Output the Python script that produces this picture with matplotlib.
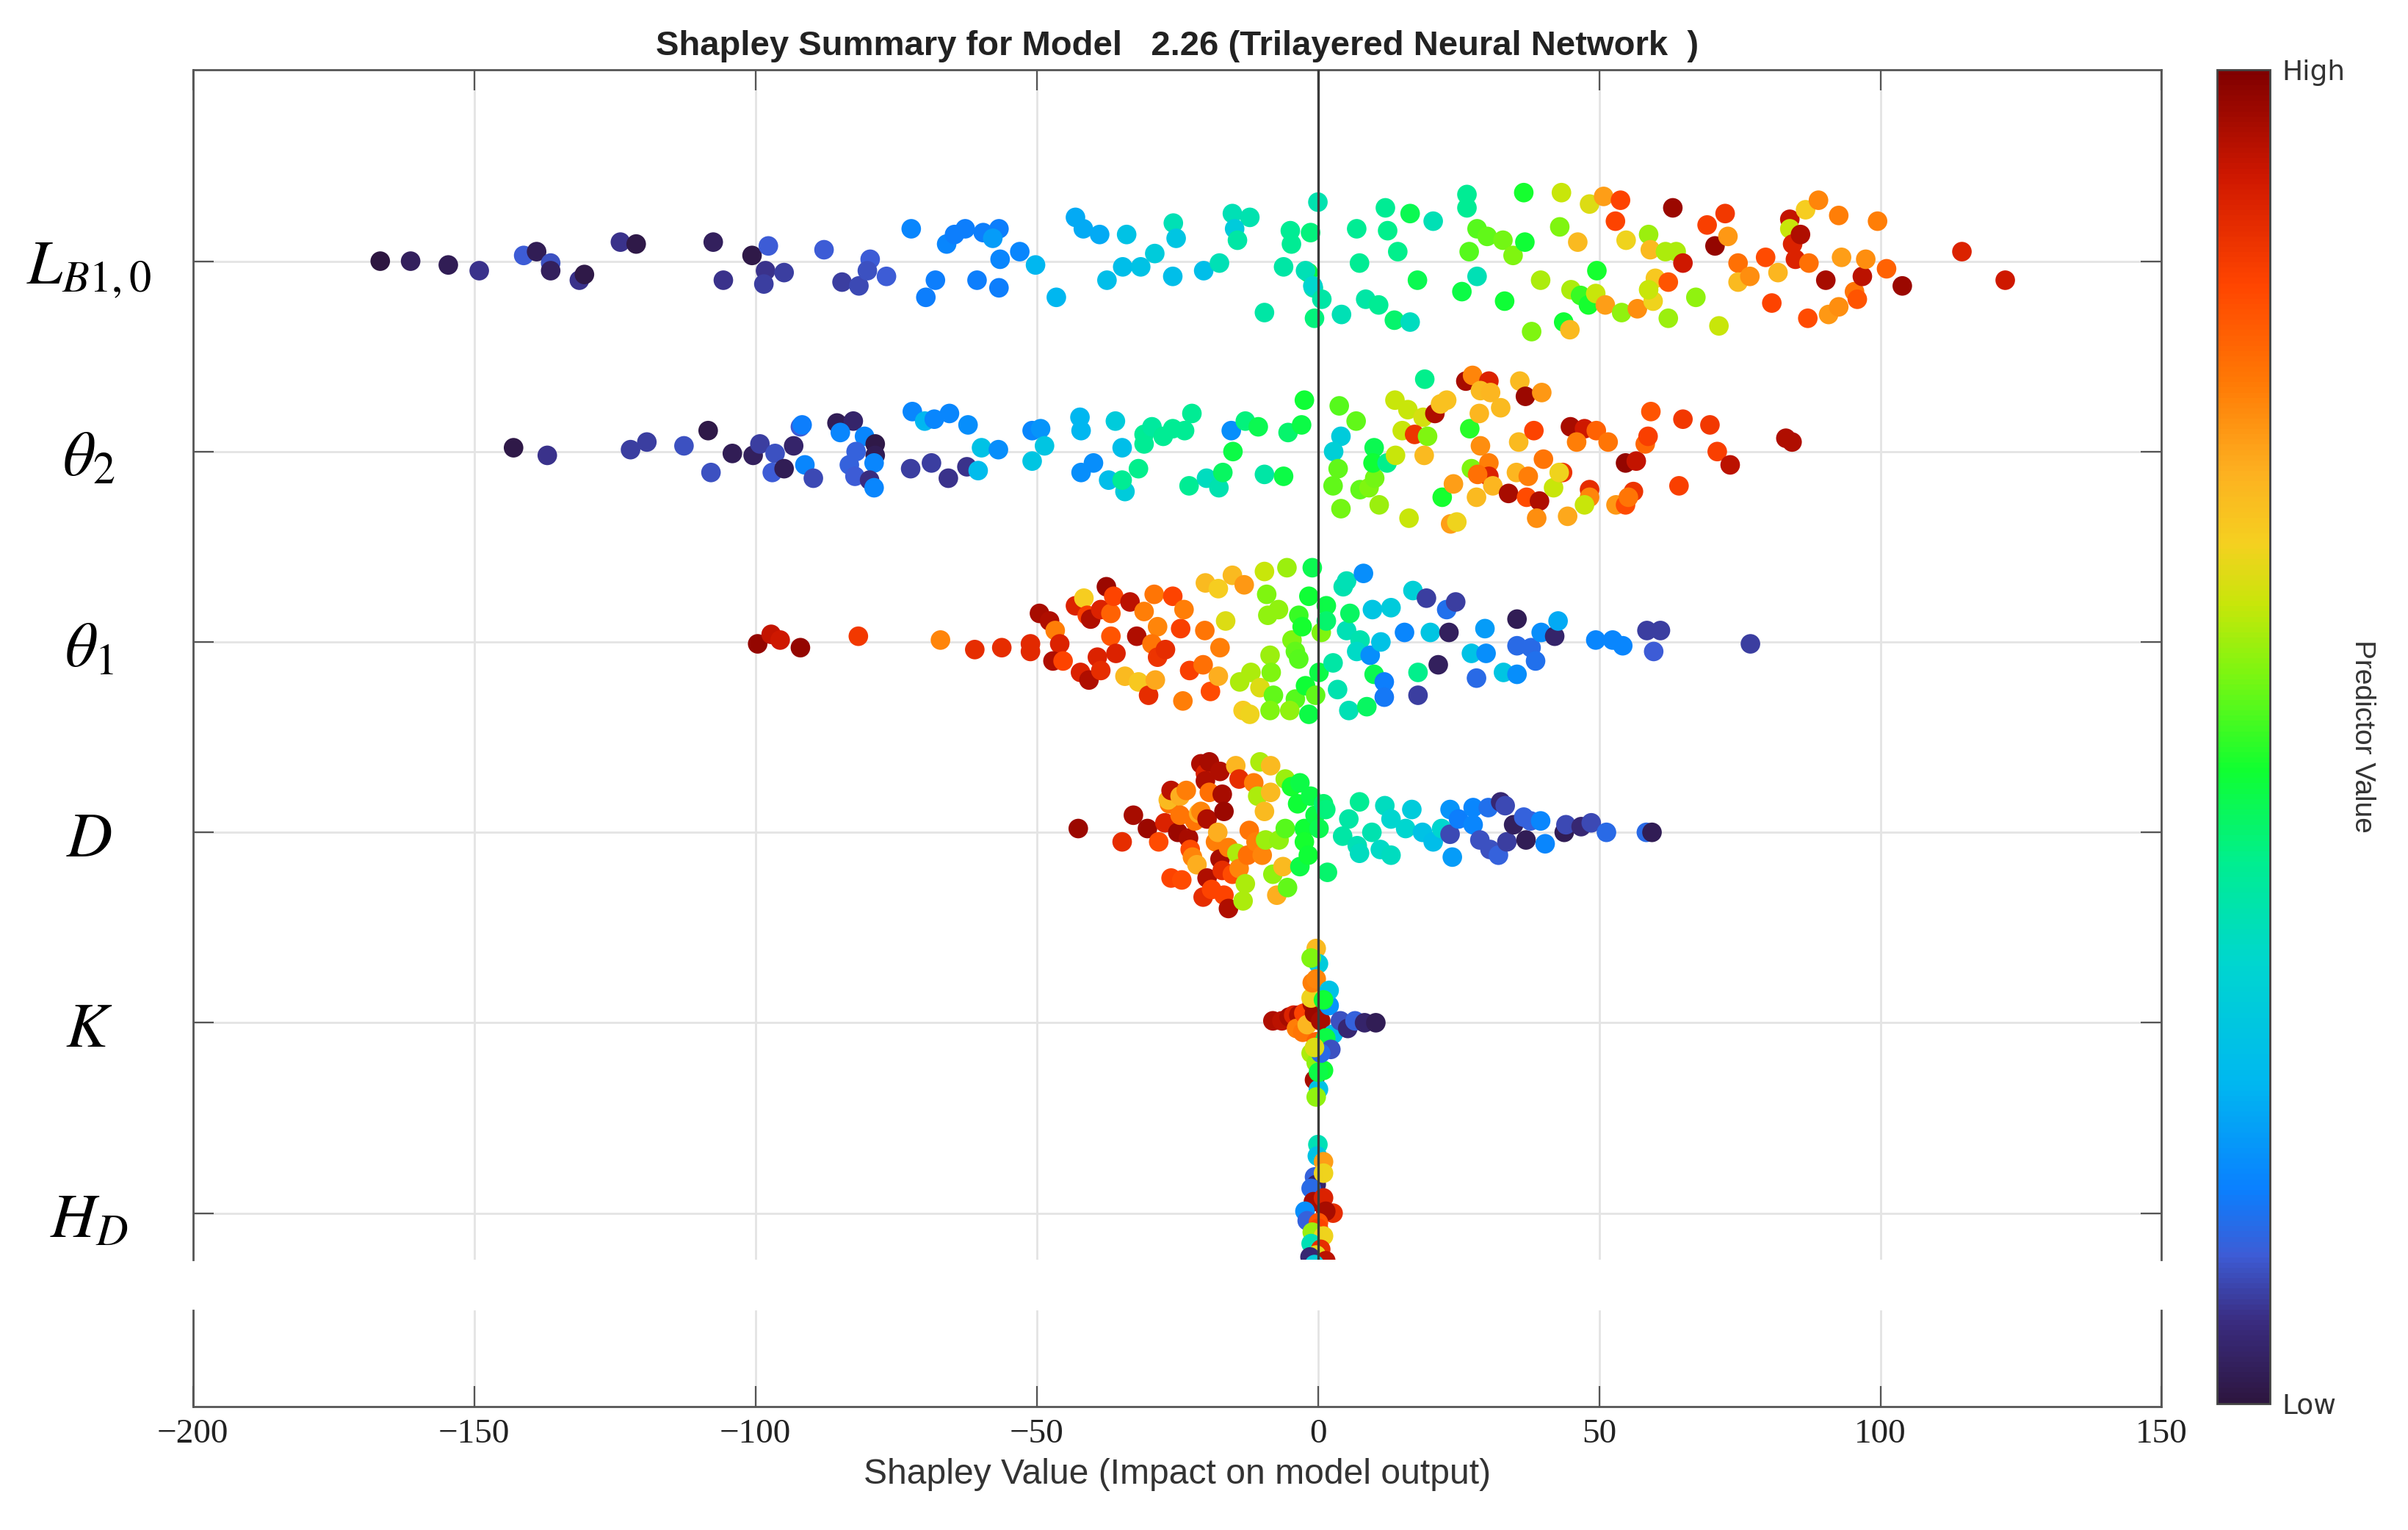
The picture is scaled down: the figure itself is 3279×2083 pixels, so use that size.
import numpy as np
import matplotlib.pyplot as plt
from matplotlib.colors import LinearSegmentedColormap

plt.rcParams['mathtext.fontset'] = 'stix'

# predictors, top to bottom
features = [r'$L_{B1,0}$', r'$\theta_2$', r'$\theta_1$', r'$D$', r'$K$', r'$H_D$']
x_ticks = [-200, -150, -100, -50, 0, 50, 100, 150]

# --- L_B1,0 : shapley value, vertical spread, predictor value (0 low .. 1 high)
lb_shap = [-166.7, -161.3, -154.6, -149.1, -141.2, -138.9, -136.4, -136.4, -131.3, -130.4,
           -124.0, -121.2, -107.5, -105.7, -100.6, -97.7, -98.2, -98.5, -94.9, -87.8,
           -84.6, -81.6, -79.6, -80.1, -76.7, -72.3, -66.0, -64.6, -62.7, -59.5,
           -56.7, -57.8, -53.0, -56.5, -68.0, -69.7, -60.6, -56.7, -50.2, -46.5,
           -43.1, -41.7, -38.8, -34.0, -37.5, -34.7, -31.5, -29.0, -25.7, -25.2,
           -25.8, -20.3, -17.5, -15.2, -12.1, -14.8, -14.3, -9.5, -6.1, -4.9,
           -4.7, -1.3, 0.0, -1.7, -0.8, -0.6,
           -2.2, -0.9, 0.7, 4.2,
           6.9, 7.4, 12.0, 12.4, 14.2, 16.4, 17.7, 20.5, 8.5, 10.8,
           13.6, 16.4, 26.5, 26.5, 26.9, 28.3, 30.1, 32.9, 34.7, 36.8,
           28.3, 25.6, 33.2, 36.6, 38.0, 39.6, 43.0, 43.3, 43.7, 44.8,
           45.0, 46.2, 46.7, 48.1, 48.3, 49.6, 49.4, 50.8, 51.1, 52.9,
           53.8, 54.0, 54.8, 56.8, 58.8, 59.1, 60.0, 59.6, 58.8, 61.8,
           63.7, 62.3, 63.1, 62.3, 64.9, 67.2, 69.2, 70.6, 71.3, 72.4,
           72.9, 74.7, 74.7, 76.8, 79.6, 80.7, 81.8, 83.9, 83.9, 84.4,
           85.8, 84.9, 87.3, 86.7, 89.0, 87.1, 90.3, 90.8, 92.6, 92.6,
           93.1, 95.4, 95.9, 96.8, 97.4, 99.5, 101.1, 103.9, 114.5, 122.2]
lb_jit = [0.0, 0.0, -0.02, -0.05, 0.03, 0.05, -0.01, -0.05, -0.1, -0.07,
          0.10, 0.09, 0.10, -0.1, 0.03, 0.08, -0.05, -0.12, -0.06, 0.06,
          -0.11, -0.13, 0.01, -0.05, -0.08, 0.17, 0.09, 0.14, 0.17, 0.15,
          0.17, 0.12, 0.05, 0.01, -0.1, -0.19, -0.1, -0.14, -0.02, -0.19,
          0.23, 0.17, 0.14, 0.14, -0.1, -0.03, -0.03, 0.04, 0.2, 0.12,
          -0.08, -0.05, -0.01, 0.25, 0.23, 0.17, 0.11, -0.27, -0.03, 0.16,
          0.09, 0.15, 0.31, -0.06, -0.14, -0.3,
          -0.05, -0.13, -0.2, -0.28,
          0.17, -0.01, 0.28, 0.16, 0.05, 0.25, -0.1, 0.21, -0.2, -0.23,
          -0.31, -0.32, 0.35, 0.28, 0.05, 0.17, 0.13, 0.11, 0.03, 0.10,
          -0.08, -0.16, -0.21, 0.36, -0.37, -0.1, 0.18, 0.36, -0.32, -0.36,
          -0.15, 0.1, -0.18, -0.23, 0.30, -0.05, -0.17, 0.34, -0.23, 0.21,
          0.32, -0.27, 0.11, -0.25, 0.14, 0.06, -0.09, -0.21, -0.15, 0.05,
          0.05, -0.11, 0.28, -0.3, -0.01, -0.19, 0.19, 0.08, -0.34, 0.25,
          0.13, -0.01, -0.11, -0.08, 0.02, -0.22, -0.06, 0.22, 0.17, 0.09,
          0.14, 0.01, -0.01, 0.27, 0.32, -0.3, -0.1, -0.28, -0.24, 0.24,
          0.02, -0.16, -0.2, -0.08, 0.01, 0.21, -0.04, -0.13, 0.05, -0.1]
lb_val = [0.0, 0.03, 0.02, 0.07, 0.11, 0.02, 0.1, 0.03, 0.07, 0.01,
          0.07, 0.01, 0.03, 0.07, 0.01, 0.11, 0.07, 0.08, 0.08, 0.11,
          0.08, 0.09, 0.11, 0.1, 0.11, 0.17, 0.17, 0.16, 0.16, 0.16,
          0.16, 0.2, 0.17, 0.17, 0.16, 0.16, 0.16, 0.16, 0.24, 0.24,
          0.22, 0.22, 0.22, 0.27, 0.26, 0.26, 0.27, 0.3, 0.36, 0.28,
          0.26, 0.26, 0.36, 0.36, 0.37, 0.3, 0.38, 0.38, 0.38, 0.4,
          0.4, 0.42, 0.37, 0.46, 0.38, 0.42,
          0.36, 0.33, 0.38, 0.36,
          0.4, 0.4, 0.4, 0.41, 0.41, 0.45, 0.45, 0.36, 0.38, 0.4,
          0.43, 0.35, 0.4, 0.4, 0.52, 0.52, 0.53, 0.54, 0.55, 0.47,
          0.36, 0.46, 0.47, 0.48, 0.55, 0.58, 0.55, 0.6, 0.47, 0.68,
          0.58, 0.68, 0.5, 0.48, 0.62, 0.48, 0.6, 0.72, 0.72, 0.84,
          0.84, 0.56, 0.64, 0.74, 0.57, 0.68, 0.66, 0.64, 0.6, 0.58,
          0.58, 0.82, 0.97, 0.57, 0.92, 0.56, 0.85, 0.98, 0.6, 0.86,
          0.73, 0.78, 0.68, 0.74, 0.83, 0.84, 0.69, 0.93, 0.6, 0.9,
          0.95, 0.9, 0.78, 0.65, 0.75, 0.83, 0.96, 0.73, 0.74, 0.76,
          0.72, 0.77, 0.82, 0.94, 0.74, 0.76, 0.8, 0.97, 0.9, 0.92]

# --- theta_2
t2_shap = [-143.0, -137.0, -122.2, -119.3, -112.7, -108.4, -107.9, -104.1, -100.4, -99.2,
           -96.5, -97.0, -94.9, -93.2, -92.0, -91.7, -91.2, -89.7, -85.5, -82.6,
           -84.9, -80.6, -78.7, -78.7, -82.1, -83.3, -78.9, -82.3, -79.7, -78.9,
           -72.1, -69.9, -68.2, -65.5, -62.2, -72.4, -68.7, -65.7, -62.4, -60.4,
           -59.8, -56.8, -50.8, -49.3, -48.6, -50.8, -42.3, -42.1, -42.1, -39.9,
           -37.2, -36.0, -34.8, -34.3, -34.8, -31.9, -30.9, -30.9, -29.5, -27.5,
           -25.8, -23.7, -22.4, -22.9, -19.8, -17.6, -16.9, -15.4, -15.1, -12.9,
           -10.6, -9.5, -6.1, -5.3, -2.9, -2.4,
           3.8, 6.8, 4.1, 2.8, 3.6, 2.7, 4.1, 7.5, 9.1, 10.0,
           10.1, 9.8, 12.3, 10.9, 13.7, 13.8, 15.0, 16.0, 18.7, 17.2,
           19.0, 19.5, 18.9, 20.8, 21.8, 22.9, 16.2, 22.1, 24.1, 23.6,
           24.7, 27.0, 27.3, 26.3, 27.5, 30.4, 28.9, 30.7, 28.7, 32.5,
           28.9, 30.4, 30.4, 28.4, 28.2, 31.1, 33.9, 35.3, 35.7, 35.9,
           36.9, 39.8, 38.4, 37.4, 37.1, 39.4, 38.9, 40.1, 41.9, 43.5,
           42.9, 44.4, 44.9, 47.4, 46.0, 49.5, 51.6, 48.3, 48.3, 47.4,
           53.0, 54.7, 56.1, 55.2, 54.7, 56.6, 58.2, 58.7, 59.2, 64.2,
           64.9, 69.7, 71.0, 73.3, 83.2, 84.3]
t2_jit = [0.02, -0.02, 0.01, 0.05, 0.03, 0.11, -0.11, -0.01, -0.02, 0.04,
          -0.01, -0.11, -0.09, 0.03, 0.13, 0.14, -0.07, -0.14, 0.15, 0.16,
          0.1, 0.08, 0.04, -0.02, 0.0, -0.07, -0.06, -0.13, -0.15, -0.19,
          0.21, 0.16, 0.17, 0.2, 0.14, -0.09, -0.06, -0.14, -0.08, -0.1,
          0.02, 0.01, 0.11, 0.12, 0.03, -0.05, 0.18, 0.11, -0.11, -0.06,
          -0.15, 0.16, 0.02, -0.21, -0.15, -0.09, 0.09, 0.04, 0.13, 0.08,
          0.12, 0.11, 0.2, -0.18, -0.14, -0.19, -0.11, 0.11, 0.0, 0.16,
          0.13, -0.12, -0.13, 0.1, 0.14, 0.27,
          0.24, 0.16, 0.08, 0.0, -0.09, -0.18, -0.3, -0.2, -0.19, 0.02,
          -0.14, -0.06, -0.06, -0.28, 0.27, -0.02, 0.11, 0.22, 0.18, 0.09,
          0.38, 0.08, -0.02, 0.2, 0.25, 0.27, -0.35, -0.24, -0.17, -0.38,
          -0.37, 0.12, -0.09, 0.37, 0.4, 0.37, 0.32, 0.31, 0.2, 0.23,
          0.03, -0.06, -0.13, -0.12, -0.24, -0.18, -0.22, -0.11, 0.05, 0.37,
          0.29, 0.31, 0.11, -0.13, -0.24, -0.26, -0.35, -0.04, -0.19, -0.11,
          -0.11, -0.34, 0.13, 0.12, 0.05, 0.11, 0.05, -0.2, -0.24, -0.28,
          -0.28, -0.28, -0.21, -0.24, -0.06, -0.05, 0.04, 0.08, 0.21, -0.18,
          0.17, 0.14, 0.0, -0.07, 0.07, 0.05]
t2_val = [0.01, 0.07, 0.08, 0.08, 0.1, 0.01, 0.1, 0.02, 0.03, 0.08,
          0.1, 0.11, 0.02, 0.04, 0.11, 0.16, 0.17, 0.09, 0.02, 0.04,
          0.17, 0.17, 0.01, 0.02, 0.12, 0.12, 0.17, 0.11, 0.06, 0.17,
          0.17, 0.24, 0.17, 0.17, 0.18, 0.08, 0.08, 0.07, 0.07, 0.25,
          0.27, 0.18, 0.17, 0.19, 0.28, 0.28, 0.24, 0.24, 0.18, 0.18,
          0.26, 0.3, 0.26, 0.3, 0.4, 0.41, 0.4, 0.4, 0.39, 0.4,
          0.4, 0.4, 0.4, 0.4, 0.35, 0.37, 0.44, 0.18, 0.46, 0.42,
          0.45, 0.38, 0.46, 0.43, 0.46, 0.47,
          0.52, 0.53, 0.3, 0.31, 0.53, 0.53, 0.54, 0.53, 0.55, 0.45,
          0.54, 0.47, 0.41, 0.57, 0.6, 0.6, 0.6, 0.6, 0.61, 0.87,
          0.41, 0.55, 0.68, 0.95, 0.67, 0.67, 0.6, 0.48, 0.72, 0.72,
          0.64, 0.49, 0.55, 0.96, 0.75, 0.9, 0.68, 0.69, 0.69, 0.68,
          0.74, 0.76, 0.9, 0.78, 0.68, 0.69, 0.96, 0.69, 0.68, 0.68,
          0.97, 0.73, 0.84, 0.76, 0.83, 0.95, 0.74, 0.77, 0.6, 0.87,
          0.64, 0.71, 0.96, 0.92, 0.76, 0.8, 0.77, 0.88, 0.75, 0.6,
          0.73, 0.83, 0.87, 0.77, 0.98, 0.93, 0.79, 0.85, 0.82, 0.85,
          0.86, 0.86, 0.85, 0.94, 0.95, 0.95]

# --- theta_1
t1_shap = [-99.6, -97.2, -95.6, -92.0, -81.7, -67.1, -61.0, -56.2, -51.1, -51.1,
           -49.5, -47.7, -46.7, -45.9, -47.1, -45.3, -43.1, -41.6, -41.0, -40.4,
           -42.2, -40.7, -39.2, -38.6, -37.6, -38.6, -36.8, -36.3, -36.8, -35.9,
           -34.3, -33.4, -32.2, -31.9, -30.9, -30.1, -29.1, -28.5, -29.5, -28.9,
           -28.5, -27.1, -25.8, -24.4, -23.8, -24.0, -22.8, -20.4, -20.1, -20.0,
           -19.1, -17.7, -17.4, -17.7, -16.4, -15.2, -13.1, -13.9, -13.3, -12.1,
           -11.9, -10.3, -9.5, -9.1, -8.9, -8.5, -8.3, -7.9, -8.5, -7.0,
           -5.5, -4.6, -4.0, -3.4, -4.0, -5.0, -3.4, -2.8, -1.6, -1.0,
           -2.2, -1.6, -0.4, 0.2, 0.6, 1.5, 1.5, 2.7, 3.5, 4.5,
           5.1, 5.1, 5.7, 5.5, 7.5, 6.9, 8.1, 8.7, 9.3, 9.7,
           10.0, 11.2, 11.8, 11.8, 13.0, 15.4, 16.9, 17.8, 17.8, 19.3,
           20.0, 21.4, 22.9, 23.3, 24.5, 27.3, 28.2, 29.7, 29.9, 33.0,
           35.4, 35.4, 35.4, 37.9, 38.7, 39.7, 42.1, 42.7, 49.4, 52.4,
           54.2, 58.5, 60.9, 59.7, 76.9]
t1_jit = [-0.01, 0.04, 0.01, -0.03, 0.03, 0.01, -0.04, -0.03, -0.01, -0.05,
          0.15, 0.11, 0.06, -0.01, -0.1, -0.1, 0.19, 0.23, 0.14, 0.12,
          -0.16, -0.2, -0.08, -0.15, 0.29, 0.17, 0.15, 0.24, 0.03, -0.06,
          -0.18, 0.21, 0.03, -0.21, 0.16, -0.28, 0.25, 0.08, -0.01, -0.2,
          -0.08, -0.04, 0.24, 0.07, 0.17, -0.31, -0.15, -0.12, 0.06, 0.31,
          -0.26, 0.28, -0.03, -0.18, 0.11, 0.35, 0.3, -0.21, -0.36, -0.38,
          -0.16, -0.24, 0.37, 0.25, 0.14, -0.07, -0.16, -0.28, -0.36, 0.17,
          0.39, 0.01, -0.05, -0.09, -0.3, -0.36, 0.14, 0.08, 0.24, 0.39,
          -0.23, -0.38, -0.28, -0.16, 0.05, 0.19, 0.11, -0.11, -0.25, 0.29,
          0.32, 0.06, 0.15, -0.36, 0.01, -0.05, 0.36, -0.34, -0.07, 0.17,
          -0.17, 0.0, -0.21, -0.29, 0.18, 0.05, 0.27, -0.16, -0.28, 0.23,
          0.05, -0.12, 0.17, 0.05, 0.21, -0.06, -0.19, 0.07, -0.06, -0.16,
          0.12, -0.02, -0.17, -0.03, -0.1, 0.05, 0.03, 0.11, 0.01, 0.01,
          -0.02, 0.06, 0.06, -0.05, -0.01]
t1_val = [0.98, 0.93, 0.92, 0.98, 0.86, 0.75, 0.88, 0.88, 0.89, 0.89,
          0.96, 0.95, 0.76, 0.9, 0.95, 0.84, 0.9, 0.65, 0.85, 0.95,
          0.9, 0.95, 0.9, 0.88, 0.97, 0.9, 0.8, 0.84, 0.82, 0.9,
          0.68, 0.94, 0.95, 0.66, 0.76, 0.88, 0.77, 0.75, 0.77, 0.71,
          0.87, 0.88, 0.84, 0.85, 0.76, 0.76, 0.85, 0.78, 0.77, 0.68,
          0.83, 0.65, 0.76, 0.7, 0.62, 0.68, 0.73, 0.58, 0.65, 0.64,
          0.58, 0.62, 0.6, 0.55, 0.56, 0.57, 0.55, 0.53, 0.55, 0.56,
          0.57, 0.55, 0.53, 0.52, 0.52, 0.56, 0.5, 0.48, 0.47, 0.45,
          0.47, 0.46, 0.53, 0.46, 0.55, 0.46, 0.43, 0.38, 0.37, 0.37,
          0.36, 0.36, 0.44, 0.36, 0.37, 0.34, 0.18, 0.44, 0.18, 0.28,
          0.45, 0.27, 0.16, 0.15, 0.3, 0.17, 0.31, 0.41, 0.08, 0.08,
          0.28, 0.03, 0.14, 0.03, 0.08, 0.27, 0.13, 0.2, 0.18, 0.28,
          0.02, 0.13, 0.18, 0.13, 0.14, 0.18, 0.04, 0.22, 0.17, 0.17,
          0.17, 0.08, 0.08, 0.11, 0.08]

# --- D
d_shap = [-42.6, -34.8, -32.8, -30.3, -28.3, -27.2, -26.4, -26.6, -26.1, -26.1,
          -24.9, -24.5, -24.5, -24.2, -23.4, -23.0, -22.7, -22.3, -21.9, -21.5,
          -21.2, -20.8, -20.8, -20.4, -20.0, -20.0, -19.7, -19.7, -19.3, -19.3,
          -18.9, -18.2, -17.8, -17.4, -17.4, -17.0, -17.0, -16.7, -16.7, -15.9,
          -15.9, -15.2, -14.6, -14.4, -14.0, -14.0, -13.3, -12.9, -12.5, -12.2,
          -11.4, -11.0, -10.7, -10.3, -9.9, -9.5, -9.3, -8.4, -8.4, -8.0,
          -7.3, -6.9, -6.2, -5.8, -5.8, -5.4, -4.7, -3.6, -3.2, -3.2,
          -2.4, -2.4, -1.7, -1.3, -0.5, 0.2, 1.0, 1.7, 1.4, 4.4,
          5.5, 7.4, 7.0, 7.4, 9.6, 11.1, 11.9, 13.0, 13.0, 15.6,
          16.7, 18.6, 20.5, 22.0, 23.5, 23.5, 23.9, 25.0, 27.6, 27.6,
          28.8, 30.3, 30.6, 32.1, 32.5, 33.3, 33.6, 34.8, 36.6, 37.0,
          37.8, 39.6, 40.4, 43.8, 44.1, 46.8, 48.6, 51.3, 58.4, 59.4]
d_jit = [0.02, -0.05, 0.09, 0.02, -0.05, 0.05, 0.15, 0.17, 0.22, -0.24,
         0.0, 0.19, 0.09, -0.25, 0.22, -0.03, -0.09, -0.13, 0.06, -0.17,
         0.1, 0.36, 0.11, -0.34, 0.31, 0.27, 0.07, -0.24, 0.37, 0.21,
         -0.3, -0.05, 0.0, 0.32, -0.14, -0.2, 0.2, 0.11, -0.33, -0.4,
         -0.08, -0.22, 0.35, -0.11, 0.28, -0.19, -0.36, -0.27, -0.12, 0.01,
         0.26, -0.05, 0.19, 0.37, -0.12, 0.11, -0.04, 0.35, 0.21, -0.22,
         -0.33, -0.04, -0.18, 0.28, 0.02, -0.29, 0.24, 0.15, 0.26, -0.18,
         0.02, -0.05, -0.12, 0.19, 0.09, 0.02, 0.15, -0.21, 0.12, -0.02,
         0.07, 0.16, -0.07, -0.11, 0.0, -0.09, 0.14, 0.07, -0.12, 0.02,
         0.12, 0.0, -0.05, 0.02, 0.12, -0.01, -0.13, 0.07, 0.13, 0.04,
         -0.04, 0.13, -0.09, -0.12, 0.16, 0.14, -0.05, 0.04, 0.08, -0.04,
         0.06, 0.06, -0.06, 0.0, 0.04, 0.03, 0.05, 0.0, 0.0, 0.0]
d_val = [0.97, 0.88, 0.96, 0.97, 0.83, 0.9, 0.78, 0.68, 0.94, 0.84,
         0.97, 0.7, 0.77, 0.83, 0.76, 0.96, 0.83, 0.75, 0.77, 0.7,
         0.7, 0.95, 0.75, 0.88, 0.9, 0.95, 0.95, 0.95, 0.96, 0.78,
         0.84, 0.76, 0.7, 0.95, 0.96, 0.88, 0.96, 0.97, 0.84, 0.95,
         0.76, 0.83, 0.69, 0.58, 0.88, 0.75, 0.58, 0.58, 0.78, 0.77,
         0.76, 0.76, 0.58, 0.58, 0.75, 0.68, 0.57, 0.68, 0.68, 0.56,
         0.7, 0.56, 0.68, 0.57, 0.52, 0.53, 0.48, 0.47, 0.46, 0.46,
         0.47, 0.48, 0.47, 0.46, 0.46, 0.45, 0.43, 0.43, 0.42, 0.38,
         0.38, 0.4, 0.36, 0.35, 0.37, 0.34, 0.35, 0.33, 0.35, 0.33,
         0.3, 0.27, 0.26, 0.33, 0.19, 0.09, 0.2, 0.16, 0.17, 0.17,
         0.1, 0.14, 0.1, 0.12, 0.05, 0.09, 0.08, 0.03, 0.12, 0.02,
         0.12, 0.17, 0.17, 0.02, 0.09, 0.05, 0.09, 0.13, 0.13, 0.02]

# --- K
k_shap = [-8.0, -6.4, -5.1, -4.3, -3.4, -3.8, -2.7, -2.5, -1.9, -1.0,
          -0.6, -1.2, -0.3, 0.1, -1.0, -0.3, -1.2, 0.5, -0.3, -1.2,
          0.5, -0.3, 1.0, -0.6, 0.1, -0.3, 2.0, 2.7, 1.4, 4.0,
          5.3, 6.6, 8.3, 10.3, 2.0, 2.3, 1.0, 0.5, -0.6, 0.1]
k_jit = [0.01, 0.01, 0.03, 0.04, 0.04, -0.03, -0.05, 0.05, -0.01, 0.1,
         0.05, 0.13, 0.39, 0.31, 0.21, 0.23, 0.34, 0.01, -0.1, -0.16,
         -0.12, -0.21, -0.25, -0.3, -0.35, -0.39, 0.09, -0.06, -0.08, 0.01,
         -0.03, 0.01, 0.0, 0.0, 0.17, -0.14, 0.12, -0.16, -0.13, -0.26]
k_val = [0.95, 0.94, 0.96, 0.9, 0.95, 0.76, 0.77, 0.84, 0.69, 0.96,
         0.97, 0.64, 0.68, 0.3, 0.76, 0.75, 0.55, 0.96, 0.8, 0.58,
         0.45, 0.56, 0.47, 0.96, 0.27, 0.56, 0.19, 0.26, 0.46, 0.1,
         0.05, 0.12, 0.04, 0.02, 0.27, 0.1, 0.47, 0.13, 0.62, 0.46]

# --- H_D
hd_shap = [0.0, -0.1, 1.0, -0.6, -0.3, 1.0, -1.2, -0.8, 1.0, -2.3,
           2.7, 1.4, -1.9, 0.1, 0.1, -1.0, 1.0, -1.2, 0.5, -0.3,
           -1.4, 1.4, -0.6]
hd_jit = [0.36, 0.3, 0.27, 0.19, 0.15, 0.21, 0.13, 0.06, 0.08, 0.01,
          0.0, 0.01, -0.04, -0.05, -0.08, -0.10, -0.12, -0.16, -0.19, -0.22,
          -0.23, -0.25, -0.27]
hd_val = [0.36, 0.27, 0.72, 0.12, 0.04, 0.64, 0.13, 0.96, 0.9, 0.18,
          0.88, 0.96, 0.12, 0.82, 0.84, 0.57, 0.64, 0.36, 0.88, 0.63,
          0.05, 0.94, 0.3]

shap_sets = [lb_shap, t2_shap, t1_shap, d_shap, k_shap, hd_shap]
jit_sets = [lb_jit, t2_jit, t1_jit, d_jit, k_jit, hd_jit]
val_sets = [lb_val, t2_val, t1_val, d_val, k_val, hd_val]

# colour scale as in the colorbar (low -> high)
cmap = LinearSegmentedColormap.from_list('predictor', [
    (0.00, '#2d1640'), (0.06, '#3a2c80'), (0.11, '#3d5cd6'), (0.16, '#0a80ff'),
    (0.24, '#00b8f0'), (0.33, '#00d6cf'), (0.405, '#00ee90'), (0.475, '#10ff30'),
    (0.55, '#80f510'), (0.60, '#c8e60a'), (0.645, '#f5d020'), (0.70, '#fdb020'),
    (0.766, '#ff7a05'), (0.84, '#ff4500'), (0.92, '#d01800'), (1.00, '#800000')])

spine_col = '#555555'
fig = plt.figure(figsize=(16.4, 10.415), dpi=200)
ax = fig.add_axes([0.0801, 0.1768, 0.8173, 0.7777])
ax_lo = fig.add_axes([0.0801, 0.0808, 0.8173, 0.0626], sharex=ax)
cax = fig.add_axes([0.9205, 0.0828, 0.0218, 0.8717])

rows = np.arange(len(features), 0, -1)
for row, shap, jit, val in zip(rows, shap_sets, jit_sets, val_sets):
    sc = ax.scatter(np.array(shap), row + np.array(jit), c=val, cmap=cmap,
                    vmin=0, vmax=1, s=92, edgecolors='none', zorder=3)

ax.axvline(0, color='#3a3a3a', lw=1.2, zorder=4)

ax.set_xlim(-200, 150)
ax.set_ylim(0.7565, 7.006)
ax.set_xticks(x_ticks)
ax.set_yticks(rows)
ax.set_yticklabels(features, fontsize=31)
for lbl in ax.get_yticklabels():
    lbl.set_horizontalalignment('center')
ax.grid(True, color='#e4e4e4', lw=1.0)
ax.set_axisbelow(True)
ax.tick_params(axis='x', bottom=False, top=True, labelbottom=False,
               direction='in', length=10, color=spine_col)
ax.tick_params(axis='y', left=True, right=True, direction='in', length=10,
               color=spine_col, pad=51)
ax.spines['bottom'].set_visible(False)
for s in ['top', 'left', 'right']:
    ax.spines[s].set_color(spine_col)
    ax.spines[s].set_linewidth(1.0)

ax_lo.set_ylim(0, 1)
ax_lo.set_yticks([])
ax_lo.grid(True, axis='x', color='#e4e4e4', lw=1.0)
ax_lo.spines['top'].set_visible(False)
for s in ['bottom', 'left', 'right']:
    ax_lo.spines[s].set_color(spine_col)
    ax_lo.spines[s].set_linewidth(1.0)
ax_lo.tick_params(axis='x', bottom=True, top=False, direction='in', length=10,
                  color=spine_col, pad=6)
ax_lo.set_xticklabels([f'\u2212{abs(t)}' if t < 0 else str(t) for t in x_ticks],
                      fontsize=17, family='Liberation Serif', color='#222222')
ax_lo.set_xlabel('Shapley Value (Impact on model output)', fontsize=17.3,
                 family='Liberation Sans', color='#333333', labelpad=4)

ax.set_title('Shapley Summary for Model   2.26 (Trilayered Neural Network  )',
             fontsize=17, fontweight='bold', family='Liberation Sans',
             color='#222222', pad=7)

cb = fig.colorbar(sc, cax=cax)
cb.set_ticks([0, 1])
cb.set_ticklabels(['Low', 'High'])
cax.tick_params(length=0, labelsize=13.5, pad=6, colors='#333333')
cb.outline.set_edgecolor('#444444')
cb.outline.set_linewidth(1.0)
cb.set_label('Predictor Value', rotation=270, fontsize=14,
             family='Liberation Sans', color='#333333', labelpad=15)

fig.savefig('out.png', dpi=200)
